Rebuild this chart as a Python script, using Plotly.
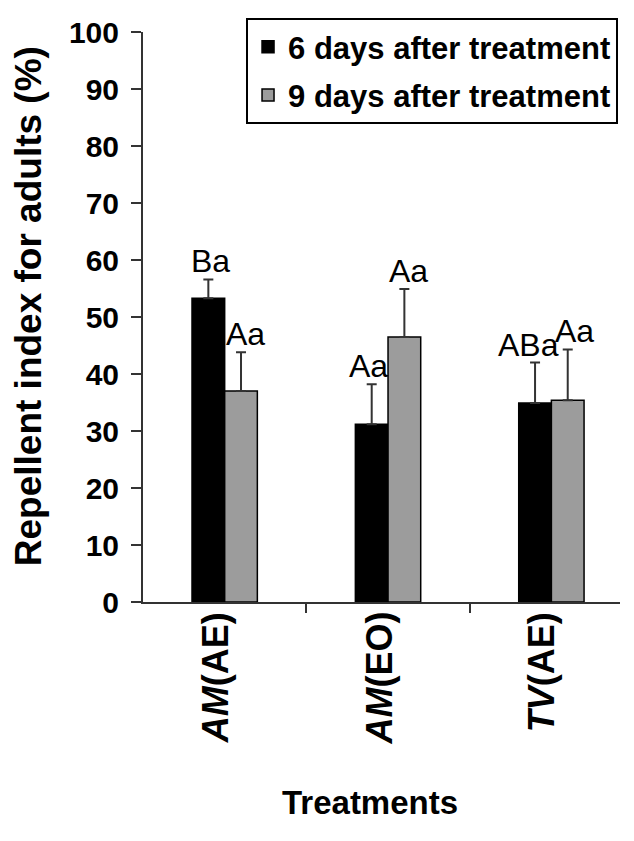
import plotly.graph_objects as go

categories = ["AM(AE)", "AM(EO)", "TV(AE)"]
tick_labels = ["<b><i>AM</i>(AE)</b>", "<b><i>AM</i>(EO)</b>", "<b><i>TV</i>(AE)</b>"]
day6_values = [53.3, 31.2, 34.9]
day6_errors = [3.3, 7.0, 7.1]
day6_letters = ["Ba", "Aa", "ABa"]
day9_values = [37.0, 46.5, 35.4]
day9_errors = [6.8, 8.4, 8.9]
day9_letters = ["Aa", "Aa", "Aa"]
series_names = ["6 days after treatment", "9 days after treatment"]
y_ticks = list(range(0, 101, 10))

FONT = "Liberation Sans, Arial, sans-serif"
idx = list(range(len(categories)))

fig = go.Figure()
fig.add_trace(go.Bar(
    x=idx, y=day6_values, name=series_names[0], legendgroup="g6",
    marker=dict(color="#000000", line=dict(color="#000000", width=1.5)),
    error_y=dict(type="data", array=day6_errors, arrayminus=[0]*3, symmetric=False,
                 color="#333333", thickness=2, width=5),
))
fig.add_trace(go.Bar(
    x=idx, y=day9_values, name=series_names[1], legendgroup="g9",
    marker=dict(color="#9c9c9c", line=dict(color="#000000", width=1.5)),
    error_y=dict(type="data", array=day9_errors, arrayminus=[0]*3, symmetric=False,
                 color="#333333", thickness=2, width=5),
))
# boundary ticks between categories (invisible helper trace on overlay axis)
fig.add_trace(go.Scatter(x=[0.5, 1.5], y=[None, None], xaxis="x2", showlegend=False,
                         hoverinfo="skip"))

annotations = []
shift6 = [2, -3, -7]
shift9 = [4, 4, 7]
for i in idx:
    annotations.append(dict(x=i - 0.1, y=day6_values[i] + day6_errors[i], xref="x", yref="y",
                            text=day6_letters[i], showarrow=False, yanchor="bottom",
                            xshift=shift6[i], yshift=-2,
                            font=dict(family=FONT, size=32, color="#000")))
    annotations.append(dict(x=i + 0.1, y=day9_values[i] + day9_errors[i], xref="x", yref="y",
                            text=day9_letters[i], showarrow=False, yanchor="bottom",
                            xshift=shift9[i], yshift=-2,
                            font=dict(family=FONT, size=32, color="#000")))
    annotations.append(dict(x=i, y=-0.014, xref="x", yref="paper", text=tick_labels[i],
                            textangle=-90, showarrow=False, xanchor="center", yanchor="top",
                            xshift=-9, font=dict(family=FONT, size=36, color="#000")))

annotations.append(dict(x=0.476, y=-0.351, xref="paper", yref="paper", text="<b>Treatments</b>",
                        showarrow=False, xanchor="center", yanchor="middle",
                        font=dict(family=FONT, size=33, color="#000")))
annotations.append(dict(x=-0.241, y=0.519, xref="paper", yref="paper",
                        text="<b>Repellent index for adults (%)</b>", textangle=-90,
                        showarrow=False, xanchor="center", yanchor="middle",
                        font=dict(family=FONT, size=37, color="#000")))

fig.update_layout(
    width=634, height=841,
    margin=dict(l=135, r=22, t=24, b=247, autoexpand=False),
    paper_bgcolor="white", plot_bgcolor="white",
    barmode="group", bargap=0.6, bargroupgap=0,
    showlegend=True,
    legend=dict(x=0.216, y=1.0246, xanchor="left", yanchor="top",
                bordercolor="#000", borderwidth=2, bgcolor="white",
                font=dict(family=FONT, size=31, color="#000", weight="bold"),
                itemwidth=30, tracegroupgap=5),
    annotations=annotations,
    font=dict(family=FONT, color="#000"),
    xaxis=dict(type="linear", range=[-0.5, 2.42], showticklabels=False,
               showline=True, linecolor="#333", linewidth=2, showgrid=False,
               zeroline=False, ticks="", automargin=False),
    xaxis2=dict(overlaying="x", range=[-0.5, 2.42], tickmode="array",
                tickvals=[0.5, 1.5], ticktext=["", ""], ticks="outside", ticklen=10,
                tickwidth=2, tickcolor="#333", showgrid=False, zeroline=False,
                side="bottom", anchor="y", showline=False, automargin=False),
)
fig.update_yaxes(
    range=[0, 100], tickmode="array", tickvals=y_ticks,
    showline=True, linecolor="#333", linewidth=2, showgrid=False, zeroline=False,
    ticks="outside", ticklen=10, tickwidth=2, tickcolor="#333", ticklabelstandoff=6,
    tickfont=dict(family=FONT, size=30, color="#000", weight="bold"), automargin=False,
)
fig.write_html("out.html")
